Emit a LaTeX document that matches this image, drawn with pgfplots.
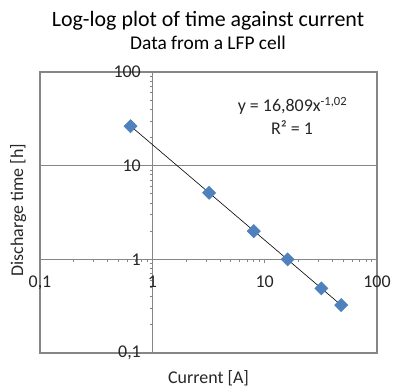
\documentclass[border=0pt]{standalone}
\usepackage{pgfplots}
\pgfplotsset{compat=1.18}
\usepackage{fontspec}
\setmainfont{Carlito}
\definecolor{exblue}{HTML}{4F81BD}
\definecolor{exgray}{HTML}{868686}
\definecolor{txt}{HTML}{262626}
\begin{document}
\begin{tikzpicture}
\useasboundingbox (0,0) rectangle (393bp,389bp);
\begin{axis}[
  at={(40bp,36bp)}, anchor=south west,
  scale only axis, width=337bp, height=281bp,
  xmode=log, ymode=log,
  xmin=0.1, xmax=100, ymin=0.1, ymax=100,
  axis background/.style={draw=exgray, line width=2.5bp},
  axis lines=middle,
  axis line style={-, exgray, line width=0.8bp},
  hide obscured x ticks=false, hide obscured y ticks=false,
  xtick={0.1,1,10,100}, xticklabels={{0,1},1,10,100},
  ytick={0.1,1,10,100}, yticklabels={{0,1},1,10,100},
  minor xtick={}, minor ytick={},
  tick align=outside,
  tick style={exgray, line width=0.8bp},
  major tick length=4bp,
  ymajorgrids, grid style={exgray, line width=0.8bp},
  tick label style={font=\fontsize{18}{20}\selectfont, text=txt},
  xticklabel style={anchor=north, yshift=-9bp},
  yticklabel style={anchor=east, xshift=-4bp},
  clip=false,
]
\addplot[only marks, mark=square*, mark size=4.7bp,
  mark options={rotate=45, fill=exblue, draw=exblue}]
  coordinates {(0.64,26.4) (3.2,5.13) (8,2.0) (16,1.0) (32,0.49) (48,0.325)};
\addplot[black, line width=0.6bp, no marks]
  coordinates {(0.64,26.5) (48,0.324)};
\end{axis}
\node[anchor=base, font=\fontsize{22}{24}\selectfont, text=black] at (208bp,362bp) {Log-log plot of time against current};
\node[anchor=base, font=\fontsize{19.5}{22}\selectfont, text=black] at (208bp,339bp) {Data from a LFP cell};
\node[anchor=base, font=\fontsize{18}{20}\selectfont, text=txt] at (208.5bp,6bp) {Current [A]};
\node[anchor=base, rotate=90, font=\fontsize{18}{20}\selectfont, text=txt] at (23bp,179bp) {Discharge time [h]};
\node[anchor=base, font=\fontsize{18}{20}\selectfont, text=txt] at (292.5bp,277.3bp) {y = 16,809x\textsuperscript{-1,02}};
\node[anchor=base, font=\fontsize{18}{20}\selectfont, text=txt] at (292bp,254bp) {R² = 1};
\end{tikzpicture}
\end{document}
